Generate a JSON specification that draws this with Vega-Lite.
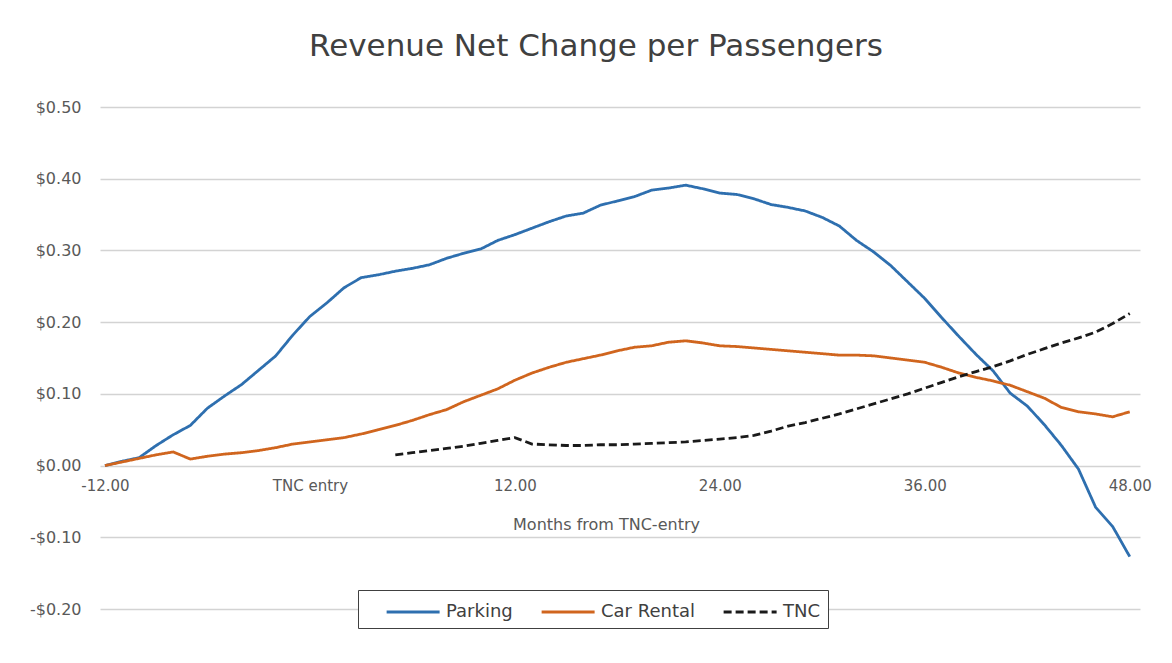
{
  "$schema": "https://vega.github.io/schema/vega-lite/v6.json",
  "width": 1040,
  "height": 502,
  "autosize": {"type": "none"},
  "padding": {"left": 100, "top": 107, "right": 32, "bottom": 54},
  "background": "white",
  "title": {
    "text": "Revenue Net Change per Passengers",
    "anchor": "middle",
    "frame": "group",
    "dx": -24,
    "baseline": "alphabetic",
    "offset": 12,
    "font": "DejaVu Sans",
    "fontSize": 31,
    "fontWeight": "normal",
    "color": "#404040"
  },
  "config": {
    "view": {"stroke": null},
    "font": "DejaVu Sans"
  },
  "data": {
    "values": [
      {"month": -12, "series": "Parking", "value": 0.000},
      {"month": -11, "series": "Parking", "value": 0.006},
      {"month": -10, "series": "Parking", "value": 0.011},
      {"month": -9, "series": "Parking", "value": 0.028},
      {"month": -8, "series": "Parking", "value": 0.043},
      {"month": -7, "series": "Parking", "value": 0.056},
      {"month": -6, "series": "Parking", "value": 0.080},
      {"month": -5, "series": "Parking", "value": 0.097},
      {"month": -4, "series": "Parking", "value": 0.113},
      {"month": -3, "series": "Parking", "value": 0.133},
      {"month": -2, "series": "Parking", "value": 0.153},
      {"month": -1, "series": "Parking", "value": 0.182},
      {"month": 0, "series": "Parking", "value": 0.208},
      {"month": 1, "series": "Parking", "value": 0.227},
      {"month": 2, "series": "Parking", "value": 0.248},
      {"month": 3, "series": "Parking", "value": 0.262},
      {"month": 4, "series": "Parking", "value": 0.266},
      {"month": 5, "series": "Parking", "value": 0.271},
      {"month": 6, "series": "Parking", "value": 0.275},
      {"month": 7, "series": "Parking", "value": 0.280},
      {"month": 8, "series": "Parking", "value": 0.289},
      {"month": 9, "series": "Parking", "value": 0.296},
      {"month": 10, "series": "Parking", "value": 0.302},
      {"month": 11, "series": "Parking", "value": 0.314},
      {"month": 12, "series": "Parking", "value": 0.322},
      {"month": 13, "series": "Parking", "value": 0.331},
      {"month": 14, "series": "Parking", "value": 0.340},
      {"month": 15, "series": "Parking", "value": 0.348},
      {"month": 16, "series": "Parking", "value": 0.352},
      {"month": 17, "series": "Parking", "value": 0.363},
      {"month": 18, "series": "Parking", "value": 0.369},
      {"month": 19, "series": "Parking", "value": 0.375},
      {"month": 20, "series": "Parking", "value": 0.384},
      {"month": 21, "series": "Parking", "value": 0.387},
      {"month": 22, "series": "Parking", "value": 0.391},
      {"month": 23, "series": "Parking", "value": 0.386},
      {"month": 24, "series": "Parking", "value": 0.380},
      {"month": 25, "series": "Parking", "value": 0.378},
      {"month": 26, "series": "Parking", "value": 0.372},
      {"month": 27, "series": "Parking", "value": 0.364},
      {"month": 28, "series": "Parking", "value": 0.360},
      {"month": 29, "series": "Parking", "value": 0.355},
      {"month": 30, "series": "Parking", "value": 0.346},
      {"month": 31, "series": "Parking", "value": 0.334},
      {"month": 32, "series": "Parking", "value": 0.314},
      {"month": 33, "series": "Parking", "value": 0.298},
      {"month": 34, "series": "Parking", "value": 0.279},
      {"month": 35, "series": "Parking", "value": 0.256},
      {"month": 36, "series": "Parking", "value": 0.233},
      {"month": 37, "series": "Parking", "value": 0.206},
      {"month": 38, "series": "Parking", "value": 0.180},
      {"month": 39, "series": "Parking", "value": 0.155},
      {"month": 40, "series": "Parking", "value": 0.132},
      {"month": 41, "series": "Parking", "value": 0.101},
      {"month": 42, "series": "Parking", "value": 0.083},
      {"month": 43, "series": "Parking", "value": 0.057},
      {"month": 44, "series": "Parking", "value": 0.028},
      {"month": 45, "series": "Parking", "value": -0.005},
      {"month": 46, "series": "Parking", "value": -0.058},
      {"month": 47, "series": "Parking", "value": -0.085},
      {"month": 48, "series": "Parking", "value": -0.127},

      {"month": -12, "series": "Car Rental", "value": 0.000},
      {"month": -11, "series": "Car Rental", "value": 0.005},
      {"month": -10, "series": "Car Rental", "value": 0.010},
      {"month": -9, "series": "Car Rental", "value": 0.015},
      {"month": -8, "series": "Car Rental", "value": 0.019},
      {"month": -7, "series": "Car Rental", "value": 0.009},
      {"month": -6, "series": "Car Rental", "value": 0.013},
      {"month": -5, "series": "Car Rental", "value": 0.016},
      {"month": -4, "series": "Car Rental", "value": 0.018},
      {"month": -3, "series": "Car Rental", "value": 0.021},
      {"month": -2, "series": "Car Rental", "value": 0.025},
      {"month": -1, "series": "Car Rental", "value": 0.030},
      {"month": 0, "series": "Car Rental", "value": 0.033},
      {"month": 1, "series": "Car Rental", "value": 0.036},
      {"month": 2, "series": "Car Rental", "value": 0.039},
      {"month": 3, "series": "Car Rental", "value": 0.044},
      {"month": 4, "series": "Car Rental", "value": 0.050},
      {"month": 5, "series": "Car Rental", "value": 0.056},
      {"month": 6, "series": "Car Rental", "value": 0.063},
      {"month": 7, "series": "Car Rental", "value": 0.071},
      {"month": 8, "series": "Car Rental", "value": 0.078},
      {"month": 9, "series": "Car Rental", "value": 0.089},
      {"month": 10, "series": "Car Rental", "value": 0.098},
      {"month": 11, "series": "Car Rental", "value": 0.107},
      {"month": 12, "series": "Car Rental", "value": 0.119},
      {"month": 13, "series": "Car Rental", "value": 0.129},
      {"month": 14, "series": "Car Rental", "value": 0.137},
      {"month": 15, "series": "Car Rental", "value": 0.144},
      {"month": 16, "series": "Car Rental", "value": 0.149},
      {"month": 17, "series": "Car Rental", "value": 0.154},
      {"month": 18, "series": "Car Rental", "value": 0.160},
      {"month": 19, "series": "Car Rental", "value": 0.165},
      {"month": 20, "series": "Car Rental", "value": 0.167},
      {"month": 21, "series": "Car Rental", "value": 0.172},
      {"month": 22, "series": "Car Rental", "value": 0.174},
      {"month": 23, "series": "Car Rental", "value": 0.171},
      {"month": 24, "series": "Car Rental", "value": 0.167},
      {"month": 25, "series": "Car Rental", "value": 0.166},
      {"month": 26, "series": "Car Rental", "value": 0.164},
      {"month": 27, "series": "Car Rental", "value": 0.162},
      {"month": 28, "series": "Car Rental", "value": 0.160},
      {"month": 29, "series": "Car Rental", "value": 0.158},
      {"month": 30, "series": "Car Rental", "value": 0.156},
      {"month": 31, "series": "Car Rental", "value": 0.154},
      {"month": 32, "series": "Car Rental", "value": 0.154},
      {"month": 33, "series": "Car Rental", "value": 0.153},
      {"month": 34, "series": "Car Rental", "value": 0.150},
      {"month": 35, "series": "Car Rental", "value": 0.147},
      {"month": 36, "series": "Car Rental", "value": 0.144},
      {"month": 37, "series": "Car Rental", "value": 0.137},
      {"month": 38, "series": "Car Rental", "value": 0.129},
      {"month": 39, "series": "Car Rental", "value": 0.123},
      {"month": 40, "series": "Car Rental", "value": 0.118},
      {"month": 41, "series": "Car Rental", "value": 0.112},
      {"month": 42, "series": "Car Rental", "value": 0.103},
      {"month": 43, "series": "Car Rental", "value": 0.094},
      {"month": 44, "series": "Car Rental", "value": 0.081},
      {"month": 45, "series": "Car Rental", "value": 0.075},
      {"month": 46, "series": "Car Rental", "value": 0.072},
      {"month": 47, "series": "Car Rental", "value": 0.068},
      {"month": 48, "series": "Car Rental", "value": 0.075},

      {"month": 5, "series": "TNC", "value": 0.015},
      {"month": 6, "series": "TNC", "value": 0.018},
      {"month": 7, "series": "TNC", "value": 0.021},
      {"month": 8, "series": "TNC", "value": 0.024},
      {"month": 9, "series": "TNC", "value": 0.027},
      {"month": 10, "series": "TNC", "value": 0.031},
      {"month": 11, "series": "TNC", "value": 0.035},
      {"month": 12, "series": "TNC", "value": 0.039},
      {"month": 13, "series": "TNC", "value": 0.030},
      {"month": 14, "series": "TNC", "value": 0.029},
      {"month": 15, "series": "TNC", "value": 0.028},
      {"month": 16, "series": "TNC", "value": 0.028},
      {"month": 17, "series": "TNC", "value": 0.029},
      {"month": 18, "series": "TNC", "value": 0.029},
      {"month": 19, "series": "TNC", "value": 0.030},
      {"month": 20, "series": "TNC", "value": 0.031},
      {"month": 21, "series": "TNC", "value": 0.032},
      {"month": 22, "series": "TNC", "value": 0.033},
      {"month": 23, "series": "TNC", "value": 0.035},
      {"month": 24, "series": "TNC", "value": 0.037},
      {"month": 25, "series": "TNC", "value": 0.039},
      {"month": 26, "series": "TNC", "value": 0.042},
      {"month": 27, "series": "TNC", "value": 0.048},
      {"month": 28, "series": "TNC", "value": 0.055},
      {"month": 29, "series": "TNC", "value": 0.060},
      {"month": 30, "series": "TNC", "value": 0.066},
      {"month": 31, "series": "TNC", "value": 0.072},
      {"month": 32, "series": "TNC", "value": 0.079},
      {"month": 33, "series": "TNC", "value": 0.086},
      {"month": 34, "series": "TNC", "value": 0.093},
      {"month": 35, "series": "TNC", "value": 0.100},
      {"month": 36, "series": "TNC", "value": 0.108},
      {"month": 37, "series": "TNC", "value": 0.116},
      {"month": 38, "series": "TNC", "value": 0.124},
      {"month": 39, "series": "TNC", "value": 0.131},
      {"month": 40, "series": "TNC", "value": 0.138},
      {"month": 41, "series": "TNC", "value": 0.146},
      {"month": 42, "series": "TNC", "value": 0.155},
      {"month": 43, "series": "TNC", "value": 0.163},
      {"month": 44, "series": "TNC", "value": 0.171},
      {"month": 45, "series": "TNC", "value": 0.178},
      {"month": 46, "series": "TNC", "value": 0.186},
      {"month": 47, "series": "TNC", "value": 0.198},
      {"month": 48, "series": "TNC", "value": 0.212}
    ]
  },
  "mark": {"type": "line", "strokeWidth": 2.8, "strokeCap": "butt", "clip": false},
  "encoding": {
    "x": {
      "field": "month",
      "type": "quantitative",
      "scale": {"domain": [-12.29, 48.6], "nice": false, "zero": false},
      "axis": {
        "values": [-12, 0, 12, 24, 36, 48],
        "labelExpr": "datum.value == 0 ? 'TNC entry' : (datum.value < 0 ? '-' : '') + format(abs(datum.value), '.2f')",
        "offset": -143,
        "domain": false,
        "ticks": false,
        "grid": false,
        "labelPadding": 12,
        "labelFontSize": 15,
        "labelColor": "#595959",
        "labelFont": "DejaVu Sans",
        "labelFlush": false,
        "title": "Months from TNC-entry",
        "titleFont": "DejaVu Sans",
        "titleFontSize": 16,
        "titleFontWeight": "normal",
        "titleColor": "#595959",
        "titlePadding": 23,
        "titleX": 506
      }
    },
    "y": {
      "field": "value",
      "type": "quantitative",
      "scale": {"domain": [-0.2, 0.5], "nice": false, "zero": false},
      "axis": {
        "values": [-0.2, -0.1, 0, 0.1, 0.2, 0.3, 0.4, 0.5],
        "labelExpr": "datum.value < -0.0001 ? '-$' + format(abs(datum.value), '.2f') : '$' + format(abs(datum.value), '.2f')",
        "domain": false,
        "ticks": false,
        "grid": true,
        "gridColor": "#D3D3D3",
        "gridWidth": 1.5,
        "labelPadding": 19,
        "labelFontSize": 16,
        "labelColor": "#595959",
        "labelFont": "DejaVu Sans",
        "title": null
      }
    },
    "color": {
      "field": "series",
      "type": "nominal",
      "scale": {
        "domain": ["Parking", "Car Rental", "TNC"],
        "range": ["#2E6FAF", "#D0651E", "#1A1A1A"]
      },
      "legend": {
        "orient": "none",
        "direction": "horizontal",
        "legendX": 258,
        "legendY": 483,
        "title": null,
        "symbolType": "M0.5,0H4.5",
        "symbolSize": 702,
        "symbolStrokeWidth": 3,
        "labelFontSize": 18,
        "labelFont": "DejaVu Sans",
        "labelColor": "#404040",
        "labelOffset": 51,
        "columnPadding": 7,
        "padding": 7,
        "fillColor": "white",
        "strokeColor": "#404040"
      }
    },
    "strokeDash": {
      "field": "series",
      "type": "nominal",
      "scale": {
        "domain": ["Parking", "Car Rental", "TNC"],
        "range": [[1, 0], [1, 0], [8, 4]]
      },
      "legend": {
        "orient": "none",
        "direction": "horizontal",
        "legendX": 258,
        "legendY": 483,
        "title": null
      }
    }
  }
}
